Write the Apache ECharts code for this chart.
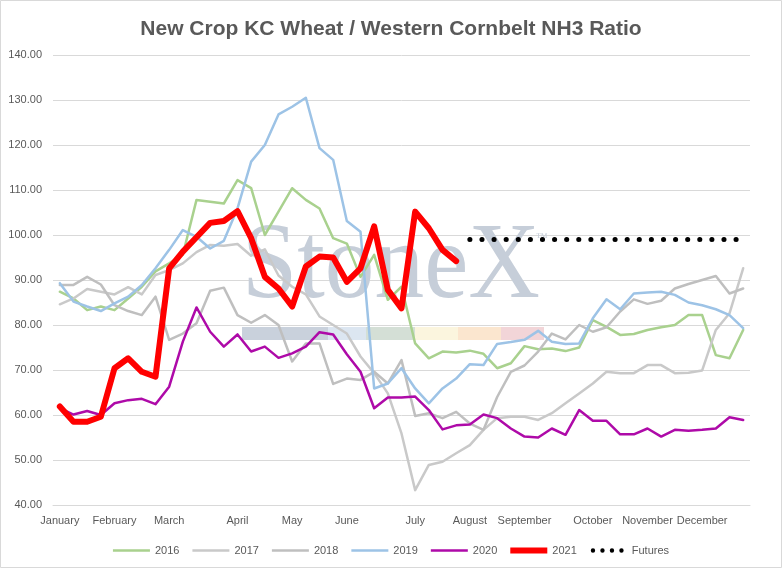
<!DOCTYPE html>
<html>
<head>
<meta charset="utf-8">
<script src="https://cdn.jsdelivr.net/npm/echarts@6/dist/echarts.min.js"></script>
<style>
html,body{margin:0;padding:0;background:#fff;}
#chart{width:782px;height:568px;}
</style>
</head>
<body>
<div id="chart"></div>
<script>
// Month labels and the weekly slot (0..50) each one sits under
var monthNames = ['January','February','March','April','May','June','July','August','September','October','November','December'];
var monthWeekIndex = [0,4,8,13,17,21,26,30,34,39,43,47];
var weekCount = 51;

var y2016 = [87.4,85.9,83.3,84.1,83.3,85.9,88.5,91.9,93.7,95.6,107.8,107.4,107.0,112.2,110.4,100.0,105.2,110.4,107.8,105.9,99.3,98.1,90.7,95.6,85.6,88.5,75.9,72.6,74.1,73.9,74.3,73.6,70.4,71.5,75.3,74.6,74.8,74.2,75.0,81.1,79.6,77.8,78.0,78.9,79.5,80.0,82.2,82.2,73.3,72.6,78.9];
var y2017 = [84.6,85.9,88.0,87.4,86.8,88.4,86.8,91.1,92.2,93.7,96.2,97.8,97.6,98.0,95.4,96.8,91.0,88.5,86.8,81.9,80.0,78.1,73.0,69.3,64.8,55.9,43.3,48.9,49.6,51.5,53.3,56.7,59.3,59.6,59.6,58.9,60.4,62.6,64.8,67.0,69.6,69.3,69.3,71.1,71.1,69.3,69.4,69.9,78.9,82.6,92.6];
var y2018 = [88.9,88.9,90.7,89.0,84.4,83.1,82.2,86.3,76.7,78.1,80.4,87.6,88.3,82.2,80.5,82.2,80.0,71.9,75.9,75.9,66.9,68.1,67.8,69.6,67.0,72.2,59.8,60.4,59.3,60.7,58.1,56.7,64.0,69.6,71.0,74.1,78.1,76.8,80.0,78.5,79.5,83.0,85.7,84.7,85.4,88.1,89.1,90.0,90.9,87.0,88.1];
var y2019 = [89.3,85.2,84.1,83.1,84.8,86.3,88.9,92.6,96.7,101.1,99.6,97.0,98.7,105.9,116.3,120.0,126.8,128.5,130.5,119.3,116.7,103.1,100.7,65.9,67.0,70.4,65.9,62.6,65.9,68.1,71.3,71.1,75.8,76.2,76.7,78.7,76.3,75.8,75.9,81.5,85.7,83.5,87.0,87.2,87.4,86.7,85.0,84.4,83.5,82.2,79.3];
var y2020 = [61.5,60.1,60.9,60.0,62.6,63.3,63.6,62.4,66.3,76.3,83.9,78.5,75.2,77.9,74.1,75.2,72.7,73.7,75.2,78.4,77.9,73.5,69.6,61.5,63.9,63.9,64.1,61.1,56.8,57.7,57.9,60.1,59.3,57.0,55.2,55.0,57.0,55.6,61.1,58.7,58.7,55.7,55.7,57.0,55.2,56.7,56.5,56.7,57.0,59.5,58.9];
var y2021 = [61.9,58.5,58.5,59.6,70.4,72.6,69.6,68.5,92.6,96.3,99.5,102.7,103.1,105.3,99.3,90.7,88.1,84.1,93.0,95.2,95.0,89.6,92.6,101.9,87.8,83.7,105.2,101.5,96.7,94.2];
var futuresLevel = 99.0;
var futuresStart = 30;

var categories = [];
for (var i = 0; i < weekCount; i++) categories.push('');
monthWeekIndex.forEach(function (w, k) { categories[w] = monthNames[k]; });

var futures = [];
for (var j = 0; j < weekCount; j++) futures.push(j >= futuresStart ? futuresLevel : null);

var font = '"Liberation Sans", Arial, sans-serif';
var txt = '#595959';

var thinIcon = 'path://M0,0M37,8M0,2.75h37v2.5h-37z';
var thickIcon = 'path://M0,0M37,8M0,1h37v6h-37z';
var dotIcon = 'path://M0,0M37,8' +
  'M1,4a2.2,2.2 0 1,0 4.4,0a2.2,2.2 0 1,0 -4.4,0' +
  'M10.5,4a2.2,2.2 0 1,0 4.4,0a2.2,2.2 0 1,0 -4.4,0' +
  'M20,4a2.2,2.2 0 1,0 4.4,0a2.2,2.2 0 1,0 -4.4,0' +
  'M29.5,4a2.2,2.2 0 1,0 4.4,0a2.2,2.2 0 1,0 -4.4,0';

var chart = echarts.init(document.getElementById('chart'));
function line(name, data, color, width) {
  return {
    name: name, type: 'line', data: data, symbol: 'none', smooth: false,
    lineStyle: { color: color, width: width, cap: 'round', join: 'round' },
    itemStyle: { color: color }, z: 3
  };
}
chart.setOption({
  backgroundColor: '#fff',
  animation: false,
  title: {
    text: 'New Crop KC Wheat / Western Cornbelt NH3 Ratio',
    left: 'center', top: 14,
    textStyle: { fontFamily: font, fontSize: 21, fontWeight: 'bold', color: txt }
  },
  grid: { left: 53, right: 32, top: 55, bottom: 63 },
  xAxis: {
    type: 'category', data: categories, boundaryGap: true,
    axisLine: { lineStyle: { color: '#d9d9d9' } },
    axisTick: { show: false },
    axisLabel: {
      interval: function (idx, val) { return val !== ''; },
      hideOverlap: false,
      color: txt, fontFamily: font, fontSize: 11, margin: 10
    },
    splitLine: { show: false }
  },
  yAxis: {
    type: 'value', min: 40, max: 140, interval: 10,
    axisLine: { show: false }, axisTick: { show: false },
    axisLabel: {
      formatter: function (v) { return v.toFixed(2); },
      color: txt, fontFamily: font, fontSize: 11, margin: 11
    },
    splitLine: { lineStyle: { color: '#d9d9d9', width: 1 } }
  },
  legend: {
    top: 540, left: 'center', itemWidth: 37, itemHeight: 8, itemGap: 13,
    textStyle: { fontFamily: font, fontSize: 11, color: txt },
    data: [
      { name: '2016', icon: thinIcon },
      { name: '2017', icon: thinIcon },
      { name: '2018', icon: thinIcon },
      { name: '2019', icon: thinIcon },
      { name: '2020', icon: thinIcon },
      { name: '2021', icon: thickIcon },
      { name: 'Futures', icon: dotIcon }
    ]
  },
  graphic: [
    { type: 'rect', shape: { x: 0.5, y: 0.5, width: 781, height: 567 }, style: { fill: 'none', stroke: '#d9d9d9', lineWidth: 1 }, z: 0, silent: true },
    { type: 'text', x: 242, y: 269, scaleX: 0.92, z: 1, silent: true,
      style: { text: 'StoneX', font: '108px "Liberation Serif", "DejaVu Serif", serif', fill: '#c6ced9', textVerticalAlign: 'middle' } },
    { type: 'text', x: 536, y: 232, z: 1, silent: true,
      style: { text: '\u2122', font: '12px "Liberation Serif", serif', fill: '#c6ced9' } },
    { type: 'rect', shape: { x: 242, y: 327, width: 86, height: 13 }, style: { fill: '#c9d1dc' }, z: 1, silent: true },
    { type: 'rect', shape: { x: 328, y: 327, width: 38, height: 13 }, style: { fill: '#dce6f1' }, z: 1, silent: true },
    { type: 'rect', shape: { x: 366, y: 327, width: 49, height: 13 }, style: { fill: '#d4dfd6' }, z: 1, silent: true },
    { type: 'rect', shape: { x: 415, y: 327, width: 43, height: 13 }, style: { fill: '#fbf5de' }, z: 1, silent: true },
    { type: 'rect', shape: { x: 458, y: 327, width: 43, height: 13 }, style: { fill: '#fbe6cf' }, z: 1, silent: true },
    { type: 'rect', shape: { x: 501, y: 327, width: 43, height: 13 }, style: { fill: '#f2d5d8' }, z: 1, silent: true }
  ],
  series: [
    line('2016', y2016, '#a9d18e', 2.5),
    line('2017', y2017, '#c9c9c9', 2.5),
    line('2018', y2018, '#bfbfbf', 2.5),
    line('2019', y2019, '#9dc3e6', 2.5),
    line('2020', y2020, '#ae0aa8', 2.5),
    line('2021', y2021, '#ff0000', 6),
    {
      name: 'Futures', type: 'line', data: futures, symbol: 'none',
      lineStyle: { color: '#000000', width: 5, type: [0.1, 12], cap: 'round' },
      itemStyle: { color: '#000000' }, z: 3
    }
  ]
});
</script>
</body>
</html>
